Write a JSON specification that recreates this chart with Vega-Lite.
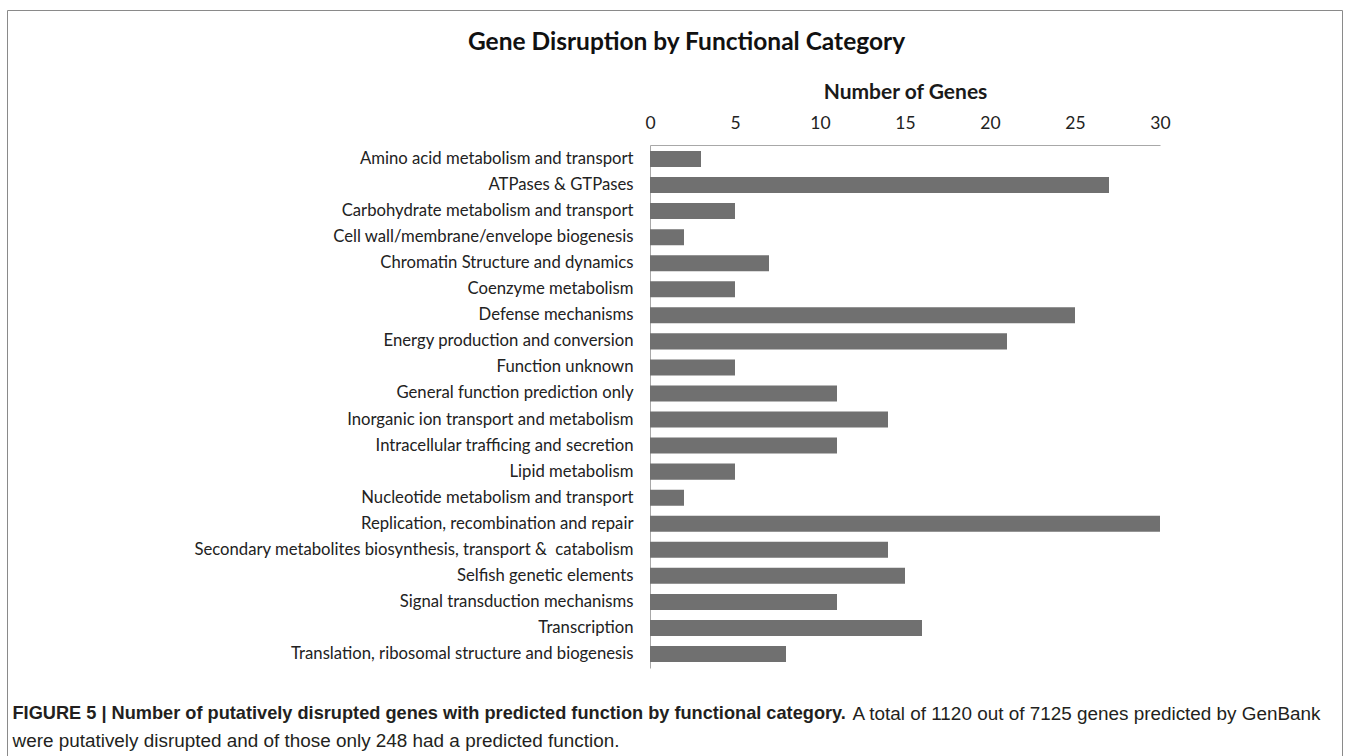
{
  "$schema": "https://vega.github.io/schema/vega-lite/v6.json",
  "autosize": "none",
  "width": 1335,
  "height": 746,
  "padding": {"left": 7, "top": 10, "right": 15, "bottom": 0},
  "background": "white",
  "config": {"view": {"stroke": "#8a8a8a", "strokeWidth": 1}},
  "data": {
    "values": [
      {"category": "Amino acid metabolism and transport", "genes": 3},
      {"category": "ATPases & GTPases", "genes": 27},
      {"category": "Carbohydrate metabolism and transport", "genes": 5},
      {"category": "Cell wall/membrane/envelope biogenesis", "genes": 2},
      {"category": "Chromatin Structure and dynamics", "genes": 7},
      {"category": "Coenzyme metabolism", "genes": 5},
      {"category": "Defense mechanisms", "genes": 25},
      {"category": "Energy production and conversion", "genes": 21},
      {"category": "Function unknown", "genes": 5},
      {"category": "General function prediction only", "genes": 11},
      {"category": "Inorganic ion transport and metabolism", "genes": 14},
      {"category": "Intracellular trafficing and secretion", "genes": 11},
      {"category": "Lipid metabolism", "genes": 5},
      {"category": "Nucleotide metabolism and transport", "genes": 2},
      {"category": "Replication, recombination and repair", "genes": 30},
      {"category": "Secondary metabolites biosynthesis, transport &\u00a0 catabolism", "genes": 14},
      {"category": "Selfish genetic elements", "genes": 15},
      {"category": "Signal transduction mechanisms", "genes": 11},
      {"category": "Transcription", "genes": 16},
      {"category": "Translation, ribosomal structure and biogenesis", "genes": 8}
    ]
  },
  "resolve": {"axis": {"x": "independent", "y": "independent"}},
  "layer": [
    {
      "mark": {"type": "bar", "color": "#707070"},
      "encoding": {
        "x": {
          "field": "genes", "type": "quantitative",
          "scale": {"domain": [0, 30], "range": [643, 1153], "nice": false, "zero": true},
          "axis": {
            "orient": "top", "offset": -135,
            "values": [0, 5, 10, 15, 20, 25, 30],
            "ticks": false, "grid": false, "labelFlush": false,
            "domainColor": "#a8a8a8",
            "labelFont": "Lato", "labelFontSize": 17.5, "labelColor": "#222222", "labelPadding": 13,
            "title": "Number of Genes",
            "titleFont": "Lato", "titleFontSize": 21, "titleFontWeight": "bold", "titleColor": "#1a1a1a", "titlePadding": 12
          }
        },
        "y": {
          "field": "category", "type": "nominal", "sort": null,
          "scale": {"range": [135, 658], "paddingInner": 0.385, "paddingOuter": 0.23},
          "axis": {
            "orient": "left", "offset": -643,
            "ticks": false, "grid": false,
            "domainColor": "#a8a8a8",
            "labelFont": "Lato", "labelFontSize": 16.7, "labelColor": "#222222", "labelPadding": 17, "labelLimit": 700,
            "title": "Gene Disruption by Functional Category",
            "titleAngle": 0, "titleX": 36, "titleY": 32, "titleAlign": "center", "titleBaseline": "middle",
            "titleFont": "Lato", "titleFontSize": 24.5, "titleFontWeight": "bold", "titleColor": "#111111"
          }
        }
      }
    },
    {
      "mark": {"type": "bar", "opacity": 0},
      "encoding": {
        "x": {
          "field": "genes", "type": "quantitative",
          "axis": {
            "orient": "bottom", "domain": false, "labels": false, "ticks": false, "grid": false,
            "title": "FIGURE 5 | Number of putatively disrupted genes with predicted function by functional category.",
            "titleX": 5, "titleY": -43, "titleAlign": "left", "titleBaseline": "middle",
            "titleFont": "Liberation Sans", "titleFontSize": 18.2, "titleFontWeight": "bold", "titleColor": "#231f20"
          }
        },
        "y": {
          "field": "category", "type": "nominal", "sort": null,
          "axis": {
            "orient": "right", "domain": false, "labels": false, "ticks": false, "grid": false,
            "title": "A total of 1120 out of 7125 genes predicted by GenBank",
            "titleAngle": 0, "titleX": -490, "titleY": 703, "titleAlign": "left", "titleBaseline": "middle",
            "titleFont": "Liberation Sans", "titleFontSize": 18.9, "titleFontWeight": "normal", "titleColor": "#231f20"
          }
        }
      }
    },
    {
      "mark": {"type": "bar", "opacity": 0},
      "encoding": {
        "x": {
          "field": "genes", "type": "quantitative",
          "axis": {
            "orient": "bottom", "domain": false, "labels": false, "ticks": false, "grid": false,
            "title": "were putatively disrupted and of those only 248 had a predicted function.",
            "titleX": 5, "titleY": -16, "titleAlign": "left", "titleBaseline": "middle",
            "titleFont": "Liberation Sans", "titleFontSize": 18.9, "titleFontWeight": "normal", "titleColor": "#231f20"
          }
        },
        "y": {
          "field": "category", "type": "nominal", "sort": null,
          "axis": null
        }
      }
    }
  ]
}
